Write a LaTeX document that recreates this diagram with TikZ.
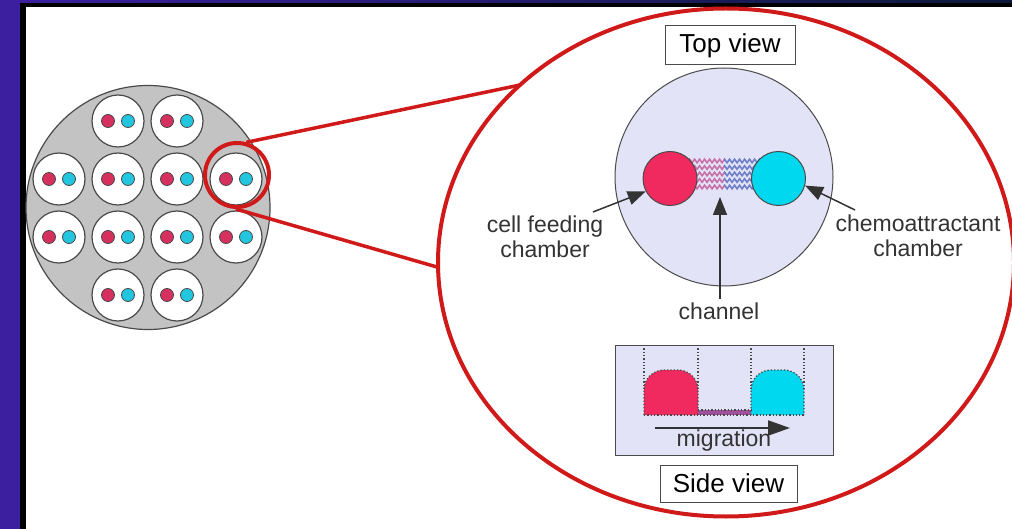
\documentclass[tikz,border=0pt]{standalone}
\usepackage{fontspec}
\setmainfont{Liberation Sans}
\usetikzlibrary{arrows.meta,decorations.pathmorphing}

\definecolor{framepurple}{HTML}{3B1F9F}
\definecolor{framenavy}{HTML}{0B1A3A}
\definecolor{discgray}{HTML}{C3C3C3}
\definecolor{outline}{HTML}{4A4A4A}
\definecolor{dotred}{HTML}{D6305E}
\definecolor{dotcyan}{HTML}{22C6DE}
\definecolor{chamred}{HTML}{F02A5E}
\definecolor{chamcyan}{HTML}{00D8F0}
\definecolor{zoomred}{HTML}{D01A1A}
\definecolor{lavender}{HTML}{E3E3F7}
\definecolor{labelgray}{HTML}{333333}
\definecolor{chanpink}{HTML}{C870A8}
\definecolor{chanblue}{HTML}{7080C8}
\definecolor{chanstrip}{HTML}{A0509A}

\tikzset{
  well/.style={circle, draw=outline, fill=white, line width=1.2pt, minimum size=52pt, inner sep=0pt},
  welldot/.style={circle, draw=outline, line width=0.8pt, minimum size=13pt, inner sep=0pt},
  chamberdisc/.style={circle, draw=outline, line width=1pt, minimum size=54pt, inner sep=0pt},
  caption/.style={font=\fontsize{23}{25}\selectfont, text=labelgray, align=center, inner sep=0pt},
  viewbox/.style={draw=outline, fill=white, line width=1pt, font=\fontsize{26}{28}\selectfont, text=black, inner sep=0pt},
  pointer/.style={draw=labelgray, line width=1.5pt, -{Triangle[length=18pt, width=14pt]}},
  bigpointer/.style={draw=black!80, line width=2pt, -{Triangle[length=22pt, width=15pt]}},
  zoomline/.style={draw=zoomred, line width=3.5pt},
  wavy/.style={line width=1.6pt, decorate, decoration={snake, amplitude=1.8pt, segment length=5pt}},
  dottededge/.style={draw=outline, line width=1.3pt, dotted},
}

\begin{document}
\begin{tikzpicture}[x=1pt, y=-1pt]
  \useasboundingbox (0,0) rectangle (1012,529);

  % window frame
  \fill[framepurple] (0,0) rectangle (1012,529);
  \shade[left color=framepurple, right color=framenavy] (20,0) rectangle (1012,3);
  \fill[black] (20,3) rectangle (1012,529);
  \fill[white] (26,7) rectangle (1012,529);

  % plate with twelve wells
  \node[circle, draw=outline, fill=discgray, line width=1.2pt, minimum size=244pt, inner sep=0pt] (plate) at (148,207.5) {};
  \foreach \wx/\wy [count=\i] in {118/121, 177/121, 59/179, 118/179, 177/179, 236/179,
                                  59/237, 118/237, 177/237, 236/237, 118/295, 177/295} {
    \node[well] (w\i) at (\wx,\wy) {};
    \node[welldot, fill=dotred] (wr\i) at (\wx-10,\wy) {};
    \node[welldot, fill=dotcyan] (wc\i) at (\wx+10,\wy) {};
  }

  % highlighted well and zoom-in
  \node[circle, draw=zoomred, line width=4pt, minimum size=64pt, inner sep=0pt] (hl) at (237,175) {};
  \draw[zoomred, line width=4pt] (726,262.5) ellipse [x radius=288, y radius=254];
  \coordinate (zoomtop) at (520,85);
  \coordinate (zoomleft) at (437,267);
  \draw[zoomline] (hl.74) -- (zoomtop);
  \draw[zoomline] (hl.-92) -- (zoomleft);

  % top view
  \node[viewbox, minimum width=130pt, minimum height=39pt] (topview) at (730,45.5) {Top view};
  \node[circle, draw=outline, fill=lavender, line width=1pt, minimum size=218pt, inner sep=0pt] (well) at (724,177) {};

  % channel: wavy micro-channels between the chambers
  \begin{scope}
    \clip (688,150) rectangle (724,200);
    \foreach \cy in {161,167.5,174,180.5,187}
      \draw[wavy, chanpink] (688,\cy) -- (762,\cy);
  \end{scope}
  \begin{scope}
    \clip (724,150) rectangle (762,200);
    \foreach \cy in {161,167.5,174,180.5,187}
      \draw[wavy, chanblue] (688,\cy) -- (762,\cy);
  \end{scope}

  \node[chamberdisc, fill=chamred] (redch) at (670,178.5) {};
  \node[chamberdisc, fill=chamcyan] (cyanch) at (778.5,178.5) {};

  \node[caption] (feedlbl) at (545,237) {cell feeding\\chamber};
  \node[caption] (chemolbl) at (918,235.5) {chemoattractant\\chamber};
  \node[caption] (chanlbl) at (719,311) {channel};

  \coordinate (feedtail) at (593,212);
  \coordinate (chemotail) at (855,210);
  \coordinate (chantail) at (720,299);
  \coordinate (chanmid) at (720,197);
  \draw[pointer] (feedtail) -- (redch.208);
  \draw[pointer] (chemotail) -- (cyanch.-15);
  \draw[pointer] (chantail) -- (chanmid);

  % side view
  \node[draw=outline, fill=lavender, line width=1pt, minimum width=218pt, minimum height=110pt, inner sep=0pt] (sidepanel) at (724,400) {};
  \fill[chamred] (644,415) [rounded corners=20pt] -- (644,370) -- (698,370) [sharp corners] -- (698,415) -- cycle;
  \fill[chamcyan] (751,415) [rounded corners=20pt] -- (751,370) -- (804,370) [sharp corners] -- (804,415) -- cycle;
  \fill[chanstrip] (698,410) rectangle (751,415);
  \draw[dottededge] (644,415) [rounded corners=20pt] -- (644,370) -- (698,370) [sharp corners] -- (698,415);
  \draw[dottededge] (751,415) [rounded corners=20pt] -- (751,370) -- (804,370) [sharp corners] -- (804,415);
  \draw[dottededge] (644,415) -- (804,415);
  \draw[dottededge] (698,410) -- (751,410);
  \foreach \vx in {644,698,751,804}
    \draw[dottededge] (\vx,345) -- (\vx,390);

  \node[caption] (miglbl) at (724,441) {migration};
  \coordinate (migtail) at (655,428);
  \coordinate (mighead) at (790,428);
  \draw[bigpointer] (migtail) -- (mighead);

  \node[viewbox, minimum width=137pt, minimum height=37pt] (sideview) at (728.5,483.5) {Side view};
\end{tikzpicture}
\end{document}
